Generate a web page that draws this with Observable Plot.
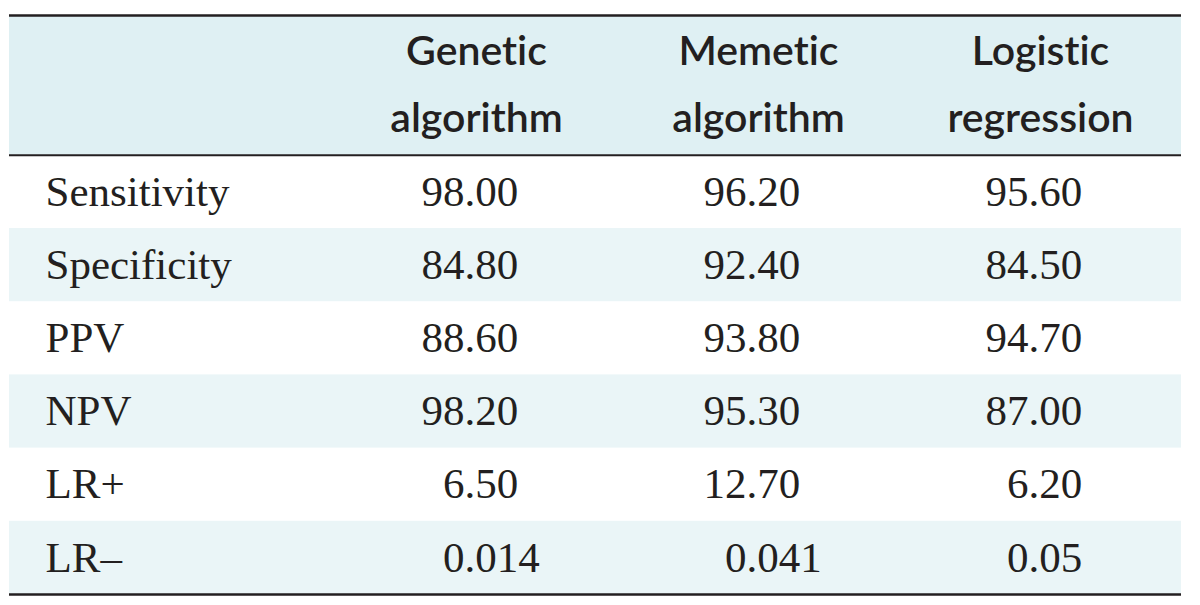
<!DOCTYPE html>
<html><head><meta charset="utf-8">
<script src="https://cdn.jsdelivr.net/npm/d3@7"></script>
<script src="https://cdn.jsdelivr.net/npm/@observablehq/plot@0.6"></script>
<style>body{margin:0;background:#fff;} svg text{font-variant-ligatures:none;font-feature-settings:"liga" 0,"clig" 0;}</style>
</head><body><div id="chart"></div>
<script>
const methods = ["Genetic algorithm", "Memetic algorithm", "Logistic regression"];
const headerLines = [["Genetic", "algorithm"], ["Memetic", "algorithm"], ["Logistic", "regression"]];
const metrics = ["Sensitivity", "Specificity", "PPV", "NPV", "LR+", "LR–"];
const genetic = ["98.00", "84.80", "88.60", "98.20", "6.50", "0.014"];
const memetic = ["96.20", "92.40", "93.80", "95.30", "12.70", "0.041"];
const logistic = ["95.60", "84.50", "94.70", "87.00", "6.20", "0.05"];

const H = 1.91; // header height in row units
const series = [genetic, memetic, logistic];
const rows = metrics.map((m, i) => ({metric: m, top: i, mid: i + 0.5, bottom: i + 1, shaded: i % 2 === 1}));
const cells = [];
metrics.forEach((m, i) => {
  series.forEach((arr, j) => {
    const s = arr[i];
    const k = s.indexOf(".");
    cells.push({method: methods[j], row: i + 0.5, int: s.slice(0, k), frac: s.slice(k)});
  });
});
const header = methods.map((m, j) => ({method: m, label: headerLines[j].join("\n"), y: -H / 2}));

const ink = "#231f20";
const plot = Plot.plot({
  width: 1200, height: 605,
  marginTop: 15, marginBottom: 11, marginLeft: 9, marginRight: 19,
  x: {type: "point", domain: methods, range: [475, 1040], padding: 0, axis: null},
  y: {domain: [-H, 6], reverse: true, axis: null},
  style: {fontFamily: "'Liberation Serif', serif", color: ink, background: "#fff"},
  marks: [
    Plot.rect([{y1: -H, y2: 0}], {y1: "y1", y2: "y2", fill: "#dff0f3"}),
    Plot.rect(rows.filter(d => d.shaded), {y1: "top", y2: "bottom", fill: "#eaf5f7"}),
    Plot.ruleY([-H, 6], {stroke: ink, strokeWidth: 2.5}),
    Plot.ruleY([0], {stroke: ink, strokeWidth: 2}),
    Plot.text(header, {x: "method", y: "y", text: "label", lineHeight: 1.62, fontSize: 41,
      fontFamily: "Lato, sans-serif", fontWeight: 600, fill: ink, dy: -8}),
    Plot.text(rows, {y: "mid", text: "metric", frameAnchor: "left", textAnchor: "start", dx: 36, fontSize: 43, fill: ink}),
    Plot.text(cells, {x: "method", y: "row", text: "int", textAnchor: "end", dx: -12, fontSize: 43, fill: ink}),
    Plot.text(cells, {x: "method", y: "row", text: "frac", textAnchor: "start", dx: -12, fontSize: 43, fill: ink})
  ]
});
document.getElementById("chart").appendChild(plot);
</script>
</body></html>
